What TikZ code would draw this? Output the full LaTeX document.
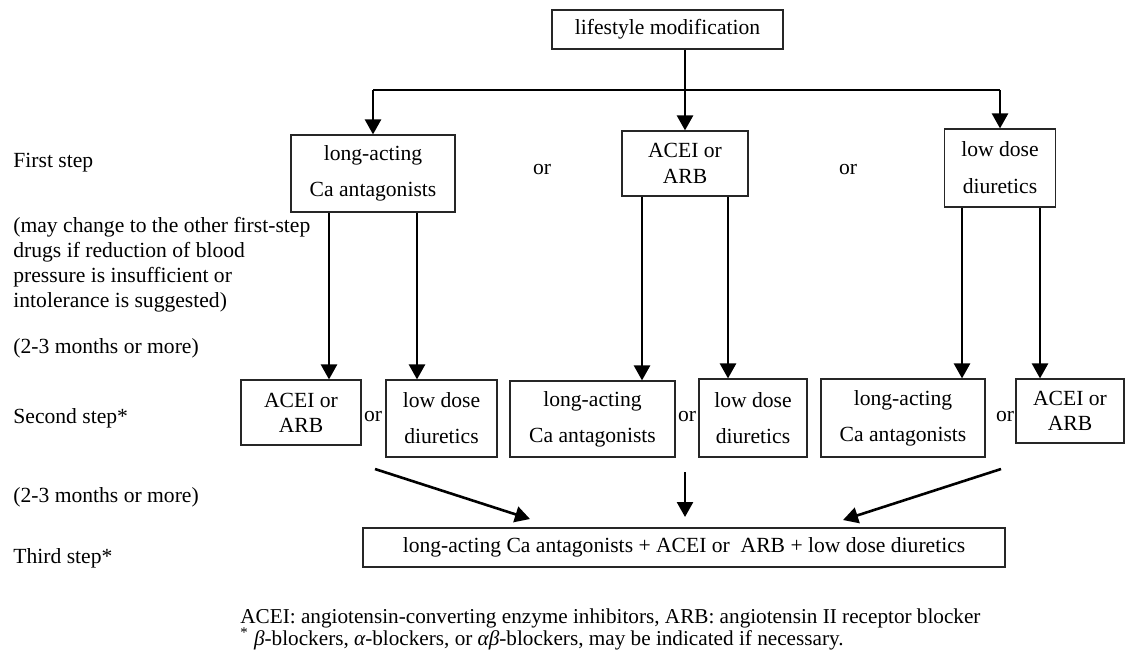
\documentclass[tikz,border=0pt]{standalone}
\usepackage{fontspec}
\setmainfont{Liberation Serif}
\usepackage{tikz}
\usetikzlibrary{positioning,arrows.meta}

\begin{document}
\begin{tikzpicture}[
x=0.5pt, y=-0.5pt,
every node/.style={font=\fontsize{10.8}{12.5}\selectfont},
drugnode/.style={rectangle, draw=black!85, line width=0.6pt, align=center, inner sep=0pt},
textnode/.style={anchor=west, align=left, inner sep=0pt},
ornode/.style={inner sep=0pt},
notenode/.style={anchor=base west, inner sep=0pt, font=\fontsize{10.6}{11}\selectfont},
bigarrow/.style={line width=1.3pt, -{Triangle[width=8pt,length=7.5pt]}},
]
\useasboundingbox (0,0) rectangle (1127,650);

%Nodes
\node[drugnode, minimum width=115.5pt, minimum height=19.5pt] (LIFE) at (667.5,29.5) {lifestyle modification};

\node[drugnode, minimum width=82pt, minimum height=38.5pt] (CA1) at (373,173.5) {long-acting\\[5.5pt]Ca antagonists};
\node[ornode] (OR1) at (542,170) {or};
\node[drugnode, minimum width=63pt, minimum height=32.5pt] (ACEI1) at (685,163.5) {ACEI or\\[0.5pt]ARB};
\node[ornode] (OR2) at (848,170) {or};
\node[drugnode, minimum width=55.5pt, minimum height=39pt] (DIU1) at (1000,168) {low dose\\[6pt]diuretics};

\node[drugnode, minimum width=60pt, minimum height=32.5pt] (ACEI2) at (301,412.5) {ACEI or\\ARB};
\node[ornode] (OR3) at (373,416) {or};
\node[drugnode, minimum width=55.5pt, minimum height=38.5pt] (DIU2) at (441.5,418.5) {low dose\\[5.5pt]diuretics};
\node[drugnode, minimum width=82.5pt, minimum height=38pt] (CA2) at (592.5,419) {long-acting\\[5.5pt]Ca antagonists};
\node[ornode] (OR4) at (687,416) {or};
\node[drugnode, minimum width=54pt, minimum height=39pt] (DIU3) at (753,418) {low dose\\[5.5pt]diuretics};
\node[drugnode, minimum width=82pt, minimum height=39pt] (CA3) at (903,418) {long-acting\\[5.5pt]Ca antagonists};
\node[ornode] (OR5) at (1005,416) {or};
\node[drugnode, minimum width=54pt, minimum height=32pt] (ACEI3) at (1070,411) {ACEI or\\ARB};

\node[drugnode, minimum width=321pt, minimum height=19.5pt] (ALL) at (684,547.5) {long-acting Ca antagonists + ACEI or\ \ ARB + low dose diuretics};

\node[textnode] (FIRST) at (13,163) {First step};
\node[textnode] (CHANGE) at (13,264.5) {(may change to the other first-step\\drugs if reduction of blood\\pressure is insufficient or\\intolerance is suggested)};
\node[textnode] (WAIT1) at (13,348) {(2-3 months or more)};
\node[textnode] (SECOND) at (13,418) {Second step*};
\node[textnode] (WAIT2) at (13,497) {(2-3 months or more)};
\node[textnode] (THIRD) at (13,558) {Third step*};

\node[notenode] (NOTE1) at (240,623) {ACEI: angiotensin-converting enzyme inhibitors, ARB: angiotensin II receptor blocker};
\node[notenode] (NOTE2) at (240,645) {\textsuperscript{*} {\itshape β}-blockers, {\itshape α}-blockers, or {\itshape αβ}-blockers, may be indicated if necessary.};

%Lines
\coordinate (SPLIT) at (685,90);
\draw[line width=0.65pt] (CA1.north |- SPLIT) -- (DIU1.north |- SPLIT);
\draw[bigarrow] (LIFE.south -| ACEI1.north) -- (ACEI1.north);
\draw[bigarrow] (CA1.north |- SPLIT) -- (CA1.north);
\draw[bigarrow] (DIU1.north |- SPLIT) -- (DIU1.north);

\foreach \xa/\from/\to in {329/CA1/ACEI2, 417/CA1/DIU2, 642/ACEI1/CA2, 728/ACEI1/DIU3, 962/DIU1/CA3, 1040/DIU1/ACEI3}
  \draw[bigarrow] (\from.south -| \xa,0) -- (\to.north -| \xa,0);

\coordinate (F1) at (375,469);
\coordinate (T1) at (530,519);
\coordinate (F2) at (685,472);
\coordinate (T2) at (685,517);
\coordinate (F3) at (1001,469);
\coordinate (T3) at (843,520);
\draw[bigarrow] (F1) -- (T1);
\draw[bigarrow] (F2) -- (T2);
\draw[bigarrow] (F3) -- (T3);

\end{tikzpicture}
\end{document}
